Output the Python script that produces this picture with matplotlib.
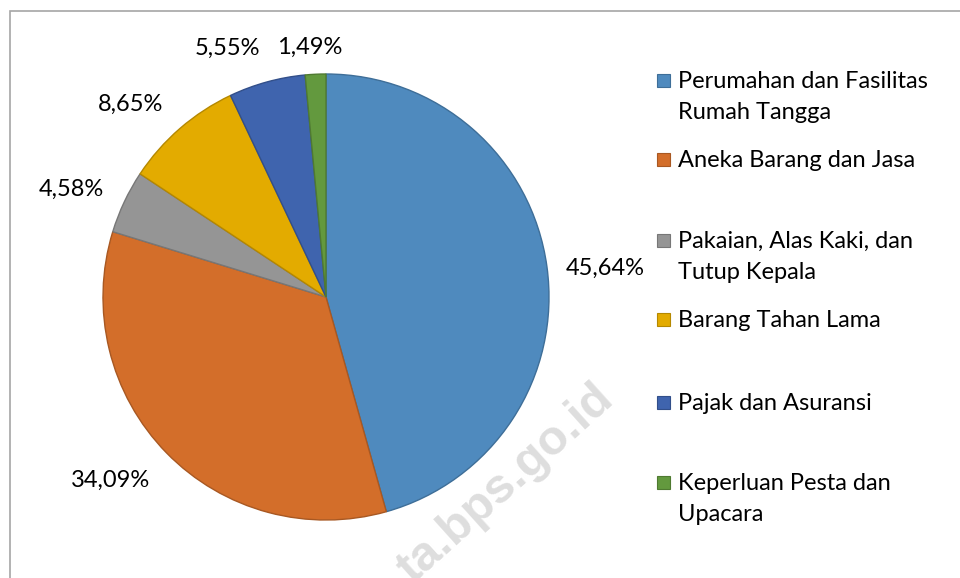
import matplotlib
matplotlib.use("Agg")
import matplotlib.pyplot as plt
from matplotlib.patches import Rectangle
import numpy as np

categories = ["Perumahan dan Fasilitas\nRumah Tangga", "Aneka Barang dan Jasa",
              "Pakaian, Alas Kaki, dan\nTutup Kepala", "Barang Tahan Lama",
              "Pajak dan Asuransi", "Keperluan Pesta dan\nUpacara"]
values = [45.64, 34.09, 4.58, 8.65, 5.55, 1.49]
value_labels = ["45,64%", "34,09%", "4,58%", "8,65%", "5,55%", "1,49%"]

colors = ["#4F8ABE", "#D36E2A", "#959595", "#E3AB00", "#3F64AE", "#63993E"]
edges = ["#3E6E98", "#A85822", "#777777", "#B58800", "#324F8A", "#4F7A31"]

W, H = 960, 578
fig = plt.figure(figsize=(W / 100, H / 100), dpi=100)
FONT = "Lato"
FS = 17

def fx(px):
    return px / W

def fy(py):
    return 1 - py / H

# border
fig.patches.append(Rectangle((fx(9.5), fy(1000)), 2, fy(10.5) - fy(1000),
                             transform=fig.transFigure, fill=False,
                             edgecolor="#A6A6A6", lw=1.2))

# watermark
fig.text(fx(506), fy(484), "ta.bps.go.id", rotation=42, rotation_mode="anchor",
         ha="center", va="center", fontsize=35, fontweight="bold",
         family="Liberation Sans", color="#DEDEDE", zorder=0)

cx, cy, r = 326, 297, 223
ax = fig.add_axes([fx(cx - r), fy(cy + r), 2 * r / W, 2 * r / H])
wedges, _ = ax.pie(values, colors=colors, startangle=90, counterclock=False,
                   radius=1, wedgeprops=dict(linewidth=1.0))
ax.set_xlim(-1, 1)
ax.set_ylim(-1, 1)
ax.axis("off")
for w, ec in zip(wedges, edges):
    w.set_edgecolor(ec)

label_r = [1.26, 1.27, 1.24, 1.23, 1.20, 1.12]
label_dang = [-2.0, -4.0, 2.4, 4.5, 6.2, 1.0]
for w, txt, lr, da in zip(wedges, value_labels, label_r, label_dang):
    ang = np.deg2rad((w.theta1 + w.theta2) / 2 + da)
    ax.text(lr * np.cos(ang), lr * np.sin(ang), txt, ha="center", va="center",
            fontsize=FS, family=FONT, color="#000000", clip_on=False)

# legend (manual, Excel-like spacing)
legend_baselines = [88, 167, 248, 327, 410, 490]
line_gap = 31
for cat, col, ec, yb in zip(categories, colors, edges, legend_baselines):
    fig.patches.append(Rectangle((fx(657), fy(yb - 1)), 13 / W, 13 / H,
                                 transform=fig.transFigure, facecolor=col,
                                 edgecolor=ec, lw=0.8))
    for i, line in enumerate(cat.split("\n")):
        fig.text(fx(678), fy(yb + i * line_gap), line, ha="left", va="baseline",
                 fontsize=FS, family=FONT, color="#000000")

fig.savefig("out.png", dpi=100)
